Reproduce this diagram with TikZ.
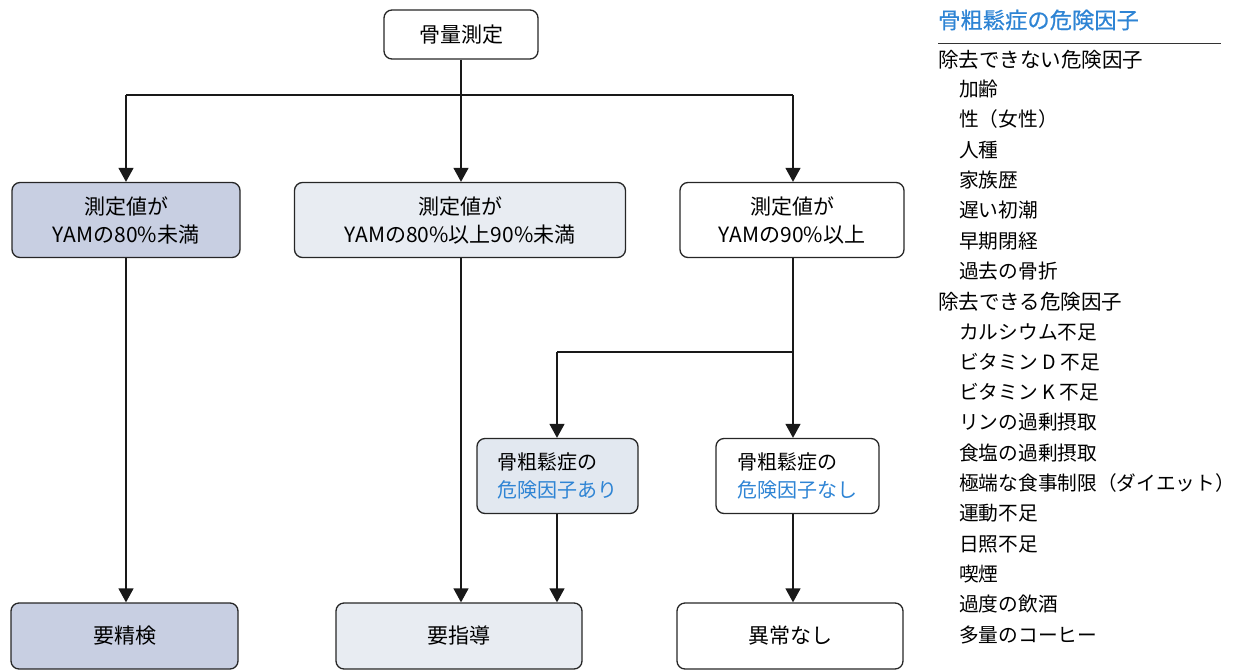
\documentclass[tikz,border=0pt]{standalone}
\usepackage{fontspec}
\setmainfont{Noto Sans CJK JP}
\newfontfamily\ttlfont[FakeBold=0.6]{Noto Sans CJK JP}
\usetikzlibrary{arrows.meta}
\definecolor{bluetxt}{HTML}{2E84D4}
\definecolor{fillA}{HTML}{C8CFE2}
\definecolor{fillB}{HTML}{E8ECF2}
\definecolor{fillC}{HTML}{E2E8F0}
\tikzset{
  box/.style={draw=black!85, rounded corners=8pt, line width=1.3pt, align=center, inner sep=0pt, font=\fontsize{21}{28}\selectfont},
  lbox/.style={box, align=left, font=\fontsize{20}{28}\selectfont},
  conn/.style={line width=1.4pt, draw=black!90},
  arr/.style={conn, -{Triangle[width=15pt,length=14pt]}},
  head/.style={anchor=west, inner sep=0pt, font=\fontsize{20.5}{22}\selectfont},
  item/.style={anchor=west, inner sep=0pt, font=\fontsize{19.7}{22}\selectfont}
}
\begin{document}
\begin{tikzpicture}[x=1pt,y=-1pt]
\useasboundingbox (0,0) rectangle (1240,670);
% boxes
\node[box, minimum width=154pt, minimum height=49pt] (top) at (461,34.5) {骨量測定};
\node[box, fill=fillA, minimum width=228pt, minimum height=75pt] (b1) at (126,220) {測定値が\\YAMの80\%未満};
\node[box, fill=fillB, minimum width=331pt, minimum height=75pt] (b2) at (460,220) {測定値が\\YAMの80\%以上90\%未満};
\node[box, minimum width=224pt, minimum height=75pt] (b3) at (792,220) {測定値が\\YAMの90\%以上};
\node[lbox, fill=fillC, minimum width=161pt, minimum height=75pt] (ari) at (557.5,476) {骨粗鬆症の\\\textcolor{bluetxt}{危険因子あり}};
\node[lbox, minimum width=163pt, minimum height=75pt] (nashi) at (797.5,476) {骨粗鬆症の\\\textcolor{bluetxt}{危険因子なし}};
\node[box, fill=fillA, minimum width=227pt, minimum height=66pt] (r1) at (124.5,636) {要精検};
\node[box, fill=fillB, minimum width=246pt, minimum height=66pt] (r2) at (459,636) {要指導};
\node[box, minimum width=226pt, minimum height=66pt] (r3) at (790,636) {異常なし};
% connectors
\coordinate (j0) at (461,95);
\coordinate (jl) at (126,95);
\coordinate (jr) at (793,95);
\coordinate (j3) at (793,352);
\coordinate (j3l) at (557,352);
\draw[conn] (jl) -- (jr);
\draw[arr] (top.south) -- (top.south |- b2.north);
\draw[arr] (jl) -- (jl |- b1.north);
\draw[arr] (jr) -- (jr |- b3.north);
\draw[arr] (b1.south -| jl) -- (jl |- r1.north);
\draw[arr] (b2.south -| j0) -- (j0 |- r2.north);
\draw[conn] (b3.south -| j3) -- (j3);
\draw[arr] (j3) -- (j3 |- nashi.north);
\draw[conn] (j3) -- (j3l);
\draw[arr] (j3l) -- (j3l |- ari.north);
\draw[arr] (ari.south -| 557,0) -- (557,0 |- r2.north);
\draw[arr] (nashi.south -| j3) -- (j3 |- r3.north);
% right panel
\node[head, text=bluetxt, font=\ttlfont\fontsize{22.3}{24}\selectfont] (t0) at (938,20) {骨粗鬆症の危険因子};
\coordinate (ls) at (938,43);
\coordinate (le) at (1221,43);
\draw[line width=0.9pt, draw=black!80] (ls) -- (le);
\node[head] (h1) at (938,59.5) {除去できない危険因子};
\node[item] (i1) at (959,89.5) {加齢};
\node[item] (i2) at (959,119.5) {性（女性）};
\node[item] (i3) at (959,150) {人種};
\node[item] (i4) at (959,180) {家族歴};
\node[item] (i5) at (959,210.5) {遅い初潮};
\node[item] (i6) at (959,241) {早期閉経};
\node[item] (i7) at (959,271) {過去の骨折};
\node[head] (h2) at (938,301.5) {除去できる危険因子};
\node[item] (k1) at (959,332) {カルシウム不足};
\node[item] (k2) at (959,362) {ビタミン D 不足};
\node[item] (k3) at (959,392) {ビタミン K 不足};
\node[item] (k4) at (959,422.5) {リンの過剰摂取};
\node[item] (k5) at (959,453) {食塩の過剰摂取};
\node[item] (k6) at (959,483) {極端な食事制限（ダイエット）};
\node[item] (k7) at (959,513.5) {運動不足};
\node[item] (k8) at (959,544) {日照不足};
\node[item] (k9) at (959,574) {喫煙};
\node[item] (k10) at (959,604.5) {過度の飲酒};
\node[item] (k11) at (959,635) {多量のコーヒー};
\end{tikzpicture}
\end{document}
